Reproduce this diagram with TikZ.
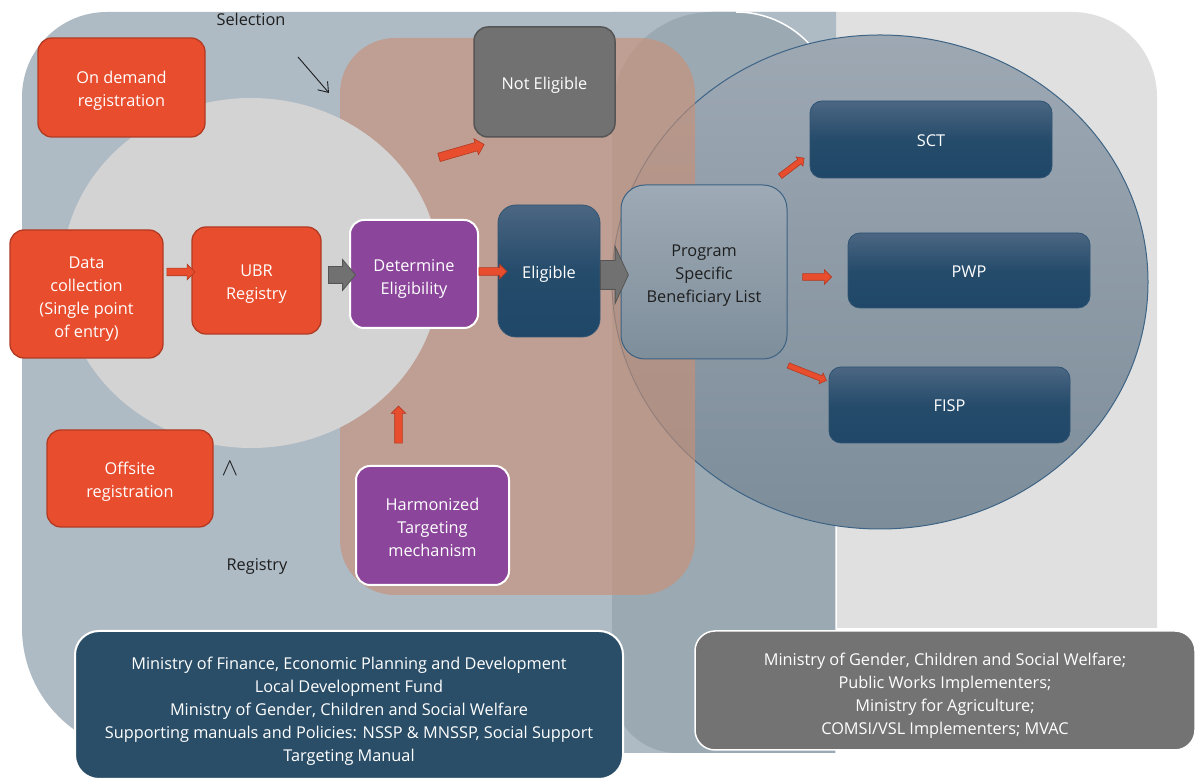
\documentclass[tikz,border=0pt]{standalone}
\usepackage{fontspec}
\setmainfont{Open Sans}
\usetikzlibrary{shapes.arrows,arrows.meta,calc}
\definecolor{bfill}{RGB}{174,187,197}
\definecolor{cfill}{RGB}{155,169,179}
\definecolor{afill}{RGB}{224,224,224}
\definecolor{lgrey}{RGB}{211,211,211}
\definecolor{brownc}{RGB}{201,144,118}
\definecolor{circtop}{RGB}{157,168,179}
\definecolor{circbot}{RGB}{125,141,154}
\definecolor{circline}{RGB}{62,100,133}
\definecolor{orangef}{RGB}{232,77,46}
\definecolor{oranged}{RGB}{178,58,34}
\definecolor{purplef}{RGB}{139,70,155}
\definecolor{dbtop}{RGB}{75,102,130}
\definecolor{dbbot}{RGB}{31,71,103}
\definecolor{dbline}{RGB}{47,84,115}
\definecolor{progtop}{RGB}{158,170,181}
\definecolor{progbot}{RGB}{126,142,155}
\definecolor{progline}{RGB}{60,98,131}
\definecolor{greyf}{RGB}{113,113,113}
\definecolor{greyd}{RGB}{85,85,85}
\definecolor{darkbox}{RGB}{42,78,104}
\definecolor{greybox}{RGB}{115,115,115}
\definecolor{txtdark}{RGB}{30,30,30}
\tikzset{
  box/.style={rounded corners=14pt, inner sep=0pt},
  lbl/.style={align=center, text=white, inner sep=0pt, yshift=#1},
  lbl/.default={-4pt},
  dlbl/.style={lbl=#1, text=txtdark},
  dlbl/.default={-4pt},
  orangebox/.style={box, fill=orangef, draw=oranged, line width=1.3pt},
  purplebox/.style={box, fill=purplef, draw=white, line width=2pt},
  bluebox/.style={box, rounded corners=12pt, top color=dbtop, bottom color=dbbot, middle color=dbbot!85!dbtop, draw=dbline, line width=0.8pt},
  progbox/.style={box, rounded corners=24pt, top color=progtop, bottom color=progbot, draw=progline, line width=1pt},
  noteligbox/.style={box, fill=greyf, draw=greyd, line width=1.5pt},
  bottombox/.style={box, rounded corners=24pt, draw=white, line width=2pt},
  blk/.style={single arrow, inner sep=0pt, single arrow head indent=0pt, anchor=center},
  redblk/.style={blk, fill=orangef, draw=oranged, line width=0.6pt},
  greyblk/.style={blk, fill=greyf, draw=greyd, line width=0.8pt},
  plain/.style={text=txtdark}
}
\begin{document}
\begin{tikzpicture}[x=1pt,y=1pt,font=\fontsize{16.3}{23}\selectfont]
\useasboundingbox (0,0) rectangle (1197,781);
\fill[white] (0,0) rectangle (1197,781);
% light grey right panel
\fill[afill] (612,769) -- (1072,769) arc[start angle=90,end angle=0,radius=85] -- (1157,153) -- (612,153) -- cycle;
% blue-grey main panel
\fill[bfill] (22,153) -- (22,684) arc[start angle=180,end angle=90,radius=85] -- (836,769) -- (836,28) -- (147,28) arc[start angle=270,end angle=180,radius=125] -- cycle;
% darker strip
\fill[cfill] (612,93) -- (612,669) arc[start angle=180,end angle=90,radius=100] -- (736,769) arc[start angle=90,end angle=0,radius=100] -- (836,28) -- (677,28) arc[start angle=270,end angle=180,radius=65] -- cycle;
\draw[white,line width=1.5pt] (736,769) arc[start angle=90,end angle=0,radius=100] -- (836,28);
% big circle
\path[top color=circtop,bottom color=circbot,draw=circline,line width=1pt] (880,499) ellipse[x radius=268,y radius=247];
% brown panel
\fill[brownc,fill opacity=0.63,rounded corners=55pt] (340,186) rectangle (695,743);
% left light grey circle
\fill[lgrey] (251,508) ellipse[x radius=189,y radius=175];

% labels
\node[plain] (sel) at (251,762) {Selection};
\node[plain] (reg) at (257,215) {Registry};
\node[text=txtdark,font=\fontsize{27}{27}\selectfont] (caret) at (230,312) {$\wedge$};
\coordinate (selA) at (298,724);
\coordinate (selB) at (329,688);
\draw[txtdark,line width=0.9pt,-{Straight Barb[length=9pt,width=13pt]}] (selA) -- (selB);

% boxes
\node[orangebox,minimum width=167pt,minimum height=99pt,label={[lbl=-3pt]center:On demand\\registration}] (ondemand) at (121.5,693.5) {};
\node[orangebox,minimum width=153pt,minimum height=128pt,label={[lbl=-5pt]center:Data\\collection\\(Single point\\of entry)}] (datacol) at (86.5,487) {};
\node[orangebox,minimum width=129pt,minimum height=107pt,label={[lbl=-3.5pt]center:UBR\\Registry}] (ubr) at (256.5,500.5) {};
\node[purplebox,minimum width=128pt,minimum height=108pt,label={[lbl=-5pt]center:Determine\\Eligibility}] (det) at (414,507) {};
\node[bluebox,rounded corners=18pt,minimum width=102pt,minimum height=132pt,label={[lbl=-3pt]center:Eligible}] (elig) at (549,510) {};
\node[noteligbox,minimum width=141pt,minimum height=110pt,label={[lbl=-3pt]center:Not Eligible}] (notelig) at (544.5,699) {};
\node[progbox,minimum width=166pt,minimum height=174pt,label={[dlbl=-4pt]center:Program\\Specific\\Beneficiary List}] (prog) at (704,509) {};
\node[bluebox,minimum width=242pt,minimum height=77pt,label={[lbl=-1pt]center:SCT}] (sct) at (931,641.5) {};
\node[bluebox,minimum width=242pt,minimum height=75pt,label={[lbl=-1pt]center:PWP}] (pwp) at (969,510.5) {};
\node[bluebox,minimum width=241pt,minimum height=76pt,label={[lbl=-1pt]center:FISP}] (fisp) at (949.5,376) {};
\node[purplebox,minimum width=153pt,minimum height=119pt,label={[lbl=-1.5pt]center:Harmonized\\Targeting\\mechanism}] (harm) at (432.5,255.5) {};
\node[orangebox,minimum width=166pt,minimum height=97pt,label={[lbl=-3pt]center:Offsite\\registration}] (offsite) at (130,302.5) {};
\node[bottombox,fill=darkbox,minimum width=548pt,minimum height=148pt,label={[lbl=-6pt]center:Ministry of Finance, Economic Planning and Development\\Local Development Fund\\Ministry of Gender, Children and Social Welfare\\Supporting manuals and Policies: NSSP \& MNSSP, Social Support\\Targeting Manual}] (orgs) at (349,76) {};
\node[bottombox,rounded corners=20pt,fill=greybox,line width=1.5pt,minimum width=500pt,minimum height=119pt,label={[lbl=-5pt]center:Ministry of Gender, Children and Social Welfare;\\Public Works Implementers;\\Ministry for Agriculture;\\COMSI/VSL Implementers; MVAC}] (impl) at (945,90.5) {};

% block arrows
\node[redblk,inner ysep=3.5pt,single arrow head extend=4pt,minimum height=28pt] (a1) at (179,509) {};
\node[greyblk,inner ysep=8pt,single arrow head extend=7pt,single arrow tip angle=100,minimum height=27pt] (g1) at (338.5,506) {};
\node[redblk,inner ysep=3.5pt,single arrow head extend=3.5pt,minimum height=28pt] (a2) at (491,509.5) {};
\node[greyblk,inner ysep=14pt,single arrow head extend=14pt,single arrow tip angle=130,minimum height=28pt] (g2) at (611,506) {};
\node[redblk,inner ysep=3.5pt,single arrow head extend=3.5pt,minimum height=37pt,rotate=90] (a3) at (398.5,354.5) {};
\node[redblk,inner ysep=4pt,single arrow head extend=4pt,minimum height=47pt,rotate=16] (a4) at (459.5,629.5) {};
\node[redblk,inner ysep=2.5pt,single arrow head extend=3pt,minimum height=30pt,rotate=37] (a5) at (791,613) {};
\node[redblk,inner ysep=3pt,single arrow head extend=4pt,minimum height=29pt] (a6) at (815.5,504) {};
\node[redblk,inner ysep=2.5pt,single arrow head extend=3pt,minimum height=41pt,rotate=-21.5] (a7) at (806,408.5) {};
\end{tikzpicture}
\end{document}
